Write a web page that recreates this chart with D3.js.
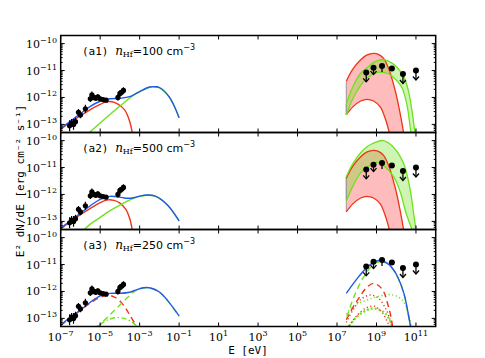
<!DOCTYPE html>
<html>
<head>
<meta charset="utf-8">
<script src="https://cdn.jsdelivr.net/npm/d3@7"></script>
<style>body{margin:0;background:#fff;}</style>
</head>
<body>
<script>
// all series are [log10 E (eV), log10 E^2 dN/dE (erg cm^-2 s^-1)]
var panelNames = ["(a1)", "(a2)", "(a3)"];
var densities = ["100", "500", "250"];
var xTickExp = [-7, -5, -3, -1, 1, 3, 5, 7, 9, 11];
var yTickExp = [-13, -12, -11, -10];

// radio / mm data
var radioE = [-6.55, -6.45, -6.35, -6.25, -6.1, -6.0, -5.75, -5.5, -5.42, -5.32, -5.22, -5.12, -5.0, -4.85, -4.7, -4.1, -4.0, -3.9, -3.82];
var radioF = [-13.05, -12.95, -13.0, -12.9, -12.55, -12.65, -12.42, -12.05, -11.9, -12.0, -12.03, -11.98, -12.05, -12.08, -12.1, -12.0, -11.85, -11.8, -11.74];
var radioErr = [0.2, 0.15, 0.2, 0.15, 0.12, 0.12, 0.15, 0.12, 0.12, 0.1, 0.1, 0.1, 0.08, 0.08, 0.05, 0.12, 0.12, 0.12, 0.12];

// Fermi points: kind "ul" = upper-limit arrow, "bar" = plain bar down, "pt" = point only
var fermiE = [8.48, 8.85, 9.28, 9.78, 10.34, 11.0];
var fermiF = [-11.07, -10.9, -10.83, -10.92, -11.13, -11.0];
var fermiDrop = [0.35, 0.25, 0.22, 0, 0.35, 0.35];
var fermiKind = ["ul", "ul", "bar", "pt", "ul", "ul"];

// panel a1
var a1Blue = [[-7,-13.15],[-6.5,-12.88],[-6,-12.6],[-5.5,-12.33],[-5,-12.14],[-4.5,-12.05],[-4,-12.03],[-3.5,-11.97],[-3,-11.78],[-2.5,-11.61],[-2.2,-11.6],[-2,-11.63],[-1.5,-11.98],[-1,-12.75]];
var a1Red = [[-7,-13.18],[-6.5,-12.92],[-6,-12.68],[-5.5,-12.45],[-5,-12.26],[-4.7,-12.16],[-4.4,-12.16],[-4.1,-12.25],[-3.75,-12.47],[-3.5,-12.9],[-3.35,-13.4],[-3.3,-13.6]];
var a1Green = [[-5.8,-13.47],[-5,-12.95],[-4,-12.32],[-3.5,-12.02],[-3.2,-11.86],[-3,-11.79],[-2.5,-11.62],[-2.2,-11.61],[-2,-11.64],[-1.5,-11.99],[-1,-12.76]];
var a1RedHi = [[7.47,-11.4],[7.8,-10.95],[8.2,-10.6],[8.5,-10.43],[8.85,-10.36],[9.1,-10.4],[9.36,-10.55],[9.6,-10.9],[9.95,-11.75],[10.2,-12.6],[10.37,-13.3],[10.45,-13.7]];
var a1RedLo = [[7.47,-12.65],[7.8,-12.35],[8.2,-12.13],[8.52,-12.07],[8.85,-12.13],[9.19,-12.35],[9.45,-12.8],[9.66,-13.33],[9.75,-13.6]];
var a1GreenHi = [[7.47,-12.25],[7.8,-11.6],[8.2,-11.1],[8.52,-10.9],[8.9,-10.68],[9.26,-10.6],[9.6,-10.65],[10.0,-10.85],[10.36,-11.2],[10.6,-11.7],[10.8,-12.5],[10.95,-13.3],[11.05,-13.7]];
var a1GreenLo = [[7.47,-12.65],[7.8,-12.05],[8.2,-11.55],[8.52,-11.29],[8.9,-11.1],[9.15,-11.06],[9.6,-11.12],[10.0,-11.35],[10.3,-11.65],[10.55,-12.3],[10.75,-13.33],[10.85,-13.7]];

// panel a2
var a2Blue = [[-7,-13.25],[-6.5,-12.98],[-6,-12.7],[-5.5,-12.42],[-5,-12.18],[-4.5,-12.07],[-4,-12.1],[-3.7,-12.14],[-3.3,-12.12],[-3,-12.06],[-2.6,-12.02],[-2.2,-12.06],[-1.6,-12.38],[-1,-12.98]];
var a2Red = [[-7,-13.28],[-6.5,-13.0],[-6,-12.75],[-5.5,-12.52],[-5,-12.3],[-4.6,-12.2],[-4.3,-12.22],[-4,-12.32],[-3.7,-12.55],[-3.5,-12.9],[-3.35,-13.4],[-3.3,-13.6]];
var a2Green = [[-5.95,-13.4],[-5.5,-13.1],[-5,-12.85],[-4.5,-12.6],[-4,-12.4],[-3.6,-12.24],[-3.3,-12.14],[-3,-12.07],[-2.6,-12.03],[-2.2,-12.07],[-1.6,-12.39],[-1,-12.99]];
var a2RedHi = a1RedHi;
var a2RedLo = a1RedLo;
var a2GreenHi = [[7.47,-11.34],[7.8,-10.85],[8.2,-10.45],[8.52,-10.23],[9.0,-10.05],[9.36,-10.0],[9.8,-10.2],[10.37,-10.84],[10.7,-11.8],[10.9,-12.8],[11.0,-13.33],[11.05,-13.7]];
var a2GreenLo = [[7.47,-12.23],[7.8,-11.7],[8.18,-11.22],[8.6,-10.95],[9.02,-10.81],[9.4,-10.95],[9.87,-11.34],[10.2,-11.9],[10.5,-12.7],[10.8,-13.33],[10.9,-13.7]];

// panel a3
var a3Blue = [[-7,-13.25],[-6.5,-12.95],[-6,-12.69],[-5.5,-12.4],[-5,-12.16],[-4.5,-12.07],[-4,-12.07],[-3.5,-12.03],[-3.2,-11.95],[-2.8,-11.86],[-2.4,-11.88],[-2,-12.02],[-1.6,-12.32],[-1,-12.91]];
var a3RedDash = [[-7,-13.27],[-6.5,-12.97],[-6,-12.7],[-5.5,-12.43],[-5,-12.22],[-4.6,-12.14],[-4.3,-12.2],[-4,-12.35],[-3.65,-12.69],[-3.4,-13.0],[-3.15,-13.3],[-3.05,-13.5]];
var a3GreenDash = [[-5.2,-13.37],[-4.5,-12.86],[-4,-12.5],[-3.5,-12.15],[-3.2,-11.97],[-2.8,-11.87],[-2.4,-11.89],[-2,-12.03],[-1.6,-12.33],[-1,-12.92]];
var a3GreenDashDot = [[-5.5,-13.45],[-5.0,-13.22],[-4.6,-13.05],[-4.1,-12.97],[-3.6,-13.05],[-3.2,-13.25],[-3.0,-13.45]];
var a3BlueG = [[7.47,-12.07],[8.1,-11.45],[8.6,-11.05],[9.1,-10.85],[9.5,-10.93],[9.8,-11.13],[10.1,-11.5],[10.4,-12.1],[10.6,-12.8],[10.75,-13.4]];
var a3GreenDashG = [[7.5,-12.95],[7.8,-12.3],[8.1,-11.8],[8.4,-11.4],[8.7,-11.1],[9.0,-10.92],[9.5,-10.95],[9.8,-11.15],[10.1,-11.52],[10.4,-12.12],[10.6,-12.82],[10.75,-13.42]];
var a3RedDashG = [[7.47,-13.05],[7.8,-12.6],[8.2,-12.15],[8.5,-11.85],[8.85,-11.7],[9.1,-11.78],[9.36,-12.0],[9.6,-12.55],[9.75,-13.0],[9.85,-13.5]];
var a3RedDotG = [[7.47,-13.15],[7.8,-12.7],[8.2,-12.3],[8.7,-12.13],[9.1,-12.25],[9.4,-12.55],[9.65,-12.95],[9.85,-13.5]];
var a3RedDashDotG = [[7.5,-13.4],[8.0,-12.9],[8.5,-12.6],[8.9,-12.55],[9.3,-12.8],[9.6,-13.2],[9.75,-13.5]];
var a3GreenDotG = [[7.47,-12.85],[7.8,-12.55],[8.4,-12.35],[9.0,-12.2],[9.5,-12.13],[9.8,-12.13],[10.1,-12.2],[10.4,-12.4],[10.6,-12.8],[10.8,-13.4]];
var a3GreenThickG = [[7.5,-13.4],[8.0,-12.94],[8.5,-12.7],[8.85,-12.63],[9.2,-12.7],[9.44,-12.81],[9.7,-13.12],[9.9,-13.5]];

var BLUE = "#2158ea", RED = "#ee3418", GREEN = "#6ee21c";

var svg = d3.select("body").append("svg").attr("width", 485).attr("height", 358);
var x = d3.scaleLog().domain([1e-7, 1e12]).range([60.7, 435.7]);
var tops = [35.5, 132.5, 229.5], ph = 97;

var panelLines = [
  [
    {d: a1Red, c: RED}, {d: a1Green, c: GREEN}, {d: a1Blue, c: BLUE}
  ],
  [
    {d: a2Red, c: RED}, {d: a2Green, c: GREEN}, {d: a2Blue, c: BLUE}
  ],
  [
    {d: a3GreenDashDot, c: GREEN, dash: "5,2.5,1.5,2.5"},
    {d: a3RedDash, c: RED, dash: "6,4"},
    {d: a3GreenDash, c: GREEN, dash: "6,4"},
    {d: a3Blue, c: BLUE},
    {d: a3GreenThickG, c: GREEN, dash: "2,2", w: 2.2},
    {d: a3GreenDotG, c: GREEN, dash: "1.2,2.5"},
    {d: a3RedDashDotG, c: RED, dash: "1.2,2.5"},
    {d: a3RedDotG, c: RED, dash: "1.2,2.5"},
    {d: a3RedDashG, c: RED, dash: "6,4"},
    {d: a3GreenDashG, c: GREEN, dash: "6,4"},
    {d: a3BlueG, c: BLUE}
  ]
];
var panelBands = [
  [{hi: a1RedHi, lo: a1RedLo, c: RED, fill: "rgba(255,60,60,0.34)"}, {hi: a1GreenHi, lo: a1GreenLo, c: GREEN, fill: "rgba(110,226,28,0.33)"}],
  [{hi: a2RedHi, lo: a2RedLo, c: RED, fill: "rgba(255,60,60,0.34)"}, {hi: a2GreenHi, lo: a2GreenLo, c: GREEN, fill: "rgba(110,226,28,0.33)"}],
  []
];

function sup(t, base, s) {
  t.append("tspan").text(base);
  t.append("tspan").attr("dy", -5).attr("font-size", 8).text(s);
}

tops.forEach(function (top, p) {
  var y = d3.scaleLog().domain([5e-14, 2e-10]).range([top + ph, top]);
  var line = d3.line()
    .x(function (d) { return x(Math.pow(10, d[0])); })
    .y(function (d) { return y(Math.pow(10, d[1])); })
    .curve(d3.curveCatmullRom.alpha(0.5));

  svg.append("clipPath").attr("id", "clip" + p)
    .append("rect").attr("x", x.range()[0]).attr("y", top).attr("width", x.range()[1] - x.range()[0]).attr("height", ph);
  var g = svg.append("g").attr("clip-path", "url(#clip" + p + ")");

  // bands: fills first, then edges
  panelBands[p].forEach(function (b) {
    var path = line(b.hi) + line(b.lo.slice().reverse()).replace(/^M/, "L") + "Z";
    g.append("path").attr("d", path).attr("fill", b.fill).attr("stroke", "none");
    g.append("line")
      .attr("x1", x(Math.pow(10, b.hi[0][0]))).attr("x2", x(Math.pow(10, b.lo[0][0])))
      .attr("y1", y(Math.pow(10, b.hi[0][1]))).attr("y2", y(Math.pow(10, b.lo[0][1])))
      .attr("stroke", "#999").attr("stroke-width", 1);
  });
  panelBands[p].forEach(function (b) {
    [b.hi, b.lo].forEach(function (s) {
      g.append("path").attr("d", line(s)).attr("fill", "none").attr("stroke", b.c).attr("stroke-width", 1.3);
    });
  });

  panelLines[p].forEach(function (s) {
    g.append("path").attr("d", line(s.d)).attr("fill", "none")
      .attr("stroke", s.c).attr("stroke-width", s.w || 1.4)
      .attr("stroke-dasharray", s.dash || null);
  });

  // radio data
  var rd = radioE.map(function (e, i) { return {e: e, f: radioF[i], err: radioErr[i]}; });
  g.selectAll("line.rerr").data(rd).enter().append("line")
    .attr("x1", function (d) { return x(Math.pow(10, d.e)); })
    .attr("x2", function (d) { return x(Math.pow(10, d.e)); })
    .attr("y1", function (d) { return y(Math.pow(10, d.f - d.err)); })
    .attr("y2", function (d) { return y(Math.pow(10, d.f + d.err)); })
    .attr("stroke", "#000").attr("stroke-width", 1.2);
  g.selectAll("circle.r").data(rd).enter().append("circle")
    .attr("cx", function (d) { return x(Math.pow(10, d.e)); })
    .attr("cy", function (d) { return y(Math.pow(10, d.f)); })
    .attr("r", 2.6).attr("fill", "#000");

  // Fermi points
  var fd = fermiE.map(function (e, i) { return {e: e, f: fermiF[i], drop: fermiDrop[i], k: fermiKind[i]}; });
  fd.forEach(function (d) {
    var px = x(Math.pow(10, d.e)), py = y(Math.pow(10, d.f));
    if (d.k !== "pt") {
      var py2 = y(Math.pow(10, d.f - d.drop));
      g.append("line").attr("x1", px).attr("x2", px).attr("y1", py).attr("y2", py2)
        .attr("stroke", "#000").attr("stroke-width", 1.3);
      if (d.k === "ul") {
        g.append("path").attr("d", "M" + (px - 3) + "," + (py2 - 3.5) + "L" + px + "," + py2 + "L" + (px + 3) + "," + (py2 - 3.5))
          .attr("fill", "none").attr("stroke", "#000").attr("stroke-width", 1.3);
      }
    }
    g.append("circle").attr("cx", px).attr("cy", py).attr("r", 3).attr("fill", "#000");
  });

  // ticks
  var ax = svg.append("g").attr("stroke", "#000").attr("stroke-width", 1);
  var x0 = x.range()[0], x1 = x.range()[1];
  xTickExp.forEach(function (k) {
    var tx = x(Math.pow(10, k));
    ax.append("line").attr("x1", tx).attr("x2", tx).attr("y1", top + ph).attr("y2", top + ph - 4);
    ax.append("line").attr("x1", tx).attr("x2", tx).attr("y1", top).attr("y2", top + 4);
  });
  for (var k = -14; k <= -10; k++) {
    for (var m = 1; m <= 9; m++) {
      var v = m * Math.pow(10, k);
      if (v < 5e-14 || v > 2e-10) continue;
      var len = m === 1 ? 4 : 2;
      var ty = y(v);
      ax.append("line").attr("x1", x0).attr("x2", x0 + len).attr("y1", ty).attr("y2", ty);
      ax.append("line").attr("x1", x1).attr("x2", x1 - len).attr("y1", ty).attr("y2", ty);
    }
  }

  // y tick labels
  yTickExp.forEach(function (k) {
    var t = svg.append("text").attr("x", 57).attr("y", y(Math.pow(10, k)) + 4)
      .attr("text-anchor", "end").attr("font-family", "DejaVu Serif, serif").attr("font-size", 11);
    sup(t, "10", "\u2212" + Math.abs(k));
  });

  // panel label
  var lab = svg.append("text").attr("x", 82).attr("y", top + 19).attr("font-size", 11);
  lab.append("tspan").attr("font-family", "DejaVu Sans Mono, monospace").text(panelNames[p] + " ");
  lab.append("tspan").attr("font-family", "DejaVu Serif, serif").attr("font-style", "italic").attr("font-size", 12).text("n");
  lab.append("tspan").attr("font-family", "DejaVu Serif, serif").attr("font-size", 8).attr("dy", 2.5).text("Hf");
  lab.append("tspan").attr("font-family", "DejaVu Sans, sans-serif").attr("dy", -2.5).text("=" + densities[p] + " cm");
  lab.append("tspan").attr("font-family", "DejaVu Sans, sans-serif").attr("font-size", 8).attr("dy", -5).text("\u22123");

  svg.append("rect").attr("x", x0).attr("y", top).attr("width", x1 - x0).attr("height", ph)
    .attr("fill", "none").attr("stroke", "#000").attr("stroke-width", 1.5);
});

// x tick labels
xTickExp.forEach(function (k) {
  var t = svg.append("text").attr("x", x(Math.pow(10, k))).attr("y", 341)
    .attr("text-anchor", "middle").attr("font-family", "DejaVu Serif, serif").attr("font-size", 11);
  sup(t, "10", (k < 0 ? "\u2212" : "") + Math.abs(k));
});

// axis labels
svg.append("text").attr("x", 248).attr("y", 354).attr("text-anchor", "middle")
  .attr("font-family", "DejaVu Sans Mono, monospace").attr("font-size", 11).text("E [eV]");
svg.append("text").attr("transform", "translate(24,181) rotate(-90)").attr("text-anchor", "middle")
  .attr("font-family", "DejaVu Sans Mono, monospace").attr("font-size", 11)
  .text("E\u00b2 dN/dE [erg cm\u207b\u00b2 s\u207b\u00b9]");
</script>
</body>
</html>
